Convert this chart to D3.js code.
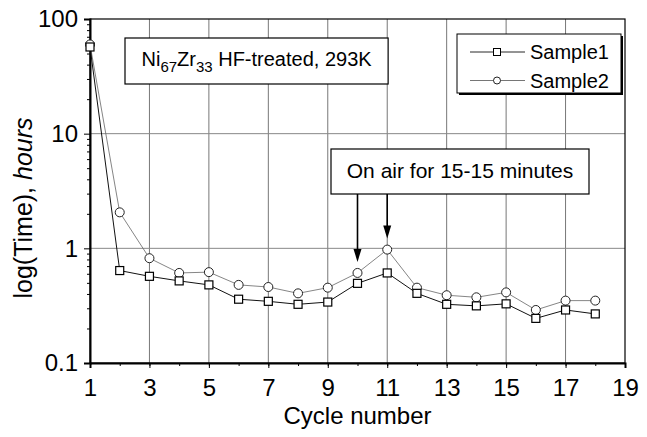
<!DOCTYPE html>
<html>
<head>
<meta charset="utf-8">
<script src="https://cdn.jsdelivr.net/npm/d3@7"></script>
<style>
  body { margin: 0; background: #fff; }
  text { font-family: Arial, "Liberation Sans", sans-serif; fill: #000; }
</style>
</head>
<body>
<script>
// data
var cycles = d3.range(1, 19);
var sample1 = [57, 0.64, 0.57, 0.52, 0.48, 0.36, 0.345, 0.325, 0.34, 0.495, 0.61, 0.405, 0.325, 0.315, 0.328, 0.245, 0.29, 0.268];
var sample2 = [60, 2.06, 0.82, 0.61, 0.62, 0.48, 0.46, 0.405, 0.454, 0.61, 0.975, 0.454, 0.39, 0.374, 0.413, 0.29, 0.35, 0.35];
var xTicks = [1, 3, 5, 7, 9, 11, 13, 15, 17, 19];
var yTicks = [0.1, 1, 10, 100];
var arrowAt = [10, 11];

var W = 647, H = 437;
var margin = {top: 19, right: 22, bottom: 74, left: 90};
var width = W - margin.left - margin.right,
    height = H - margin.top - margin.bottom;

var x = d3.scaleLinear().domain([1, 19]).range([0, width]),
    y = d3.scaleLog().domain([0.1, 100]).range([height, 0]);

var svg = d3.select("body").append("svg")
    .attr("width", W)
    .attr("height", H)
  .append("g")
    .attr("transform", "translate(" + margin.left + "," + margin.top + ")");

// grid lines
svg.selectAll(".vgrid")
    .data(xTicks.slice(1, -1))
  .enter().append("line")
    .attr("x1", function(d) { return x(d); })
    .attr("x2", function(d) { return x(d); })
    .attr("y1", 0).attr("y2", height)
    .attr("stroke", "#777").attr("stroke-width", 1);

svg.selectAll(".hgrid")
    .data([1, 10])
  .enter().append("line")
    .attr("x1", 0).attr("x2", width)
    .attr("y1", function(d) { return y(d); })
    .attr("y2", function(d) { return y(d); })
    .attr("stroke", "#888").attr("stroke-width", 1);

// frame
svg.append("rect")
    .attr("width", width).attr("height", height)
    .attr("fill", "none").attr("stroke", "#000").attr("stroke-width", 1.2);

// axes
var xMinor = d3.range(1, 20);
svg.append("g")
    .attr("transform", "translate(0," + height + ")")
    .call(d3.axisBottom(x).tickValues(xMinor).tickSize(3).tickFormat(""))
    .call(function(g) { g.select(".domain").remove(); });

var xAxis = svg.append("g")
    .attr("transform", "translate(0," + height + ")")
    .call(d3.axisBottom(x).tickValues(xTicks).tickSize(5).tickPadding(11).tickFormat(d3.format("d")));
xAxis.select(".domain").attr("stroke-width", 2);
xAxis.selectAll("text").attr("font-size", 24);

var yMinor = [];
[0.1, 1, 10].forEach(function(b) { for (var k = 2; k <= 9; k++) yMinor.push(b * k); });
svg.append("g")
    .call(d3.axisLeft(y).tickValues(yMinor).tickSize(3).tickFormat(""))
    .call(function(g) { g.select(".domain").remove(); });

var yAxis = svg.append("g")
    .call(d3.axisLeft(y).tickValues(yTicks).tickSize(6).tickPadding(6)
      .tickFormat(function(d) { return d < 1 ? "0.1" : d3.format("d")(d); }));
yAxis.select(".domain").attr("stroke-width", 2);
yAxis.selectAll("text").attr("font-size", 24);

// axis labels
svg.append("text")
    .attr("x", width / 2).attr("y", height + 61)
    .attr("text-anchor", "middle")
    .attr("font-size", 24)
    .text("Cycle number");

var yl = svg.append("text")
    .attr("transform", "translate(" + (-58) + "," + (height / 2 + 17) + ")rotate(-90)")
    .attr("text-anchor", "middle")
    .attr("font-size", 25);
yl.append("tspan").text("log(Time), ");
yl.append("tspan").attr("font-style", "italic").text("hours");

// series
var line = d3.line()
    .x(function(d, i) { return x(cycles[i]); })
    .y(function(d) { return y(d); });

svg.append("path").datum(sample2)
    .attr("d", line).attr("fill", "none")
    .attr("stroke", "#666").attr("stroke-width", 0.8);
svg.append("path").datum(sample1)
    .attr("d", line).attr("fill", "none")
    .attr("stroke", "#111").attr("stroke-width", 1);

svg.selectAll(".s2")
    .data(sample2)
  .enter().append("circle")
    .attr("cx", function(d, i) { return x(cycles[i]); })
    .attr("cy", function(d) { return y(d); })
    .attr("r", 4.5)
    .attr("fill", "#fff").attr("stroke", "#222").attr("stroke-width", 1);

svg.selectAll(".s1")
    .data(sample1)
  .enter().append("rect")
    .attr("x", function(d, i) { return x(cycles[i]) - 4; })
    .attr("y", function(d) { return y(d) - 4; })
    .attr("width", 8).attr("height", 8)
    .attr("fill", "#fff").attr("stroke", "#000").attr("stroke-width", 1.2);

// annotation: composition box
var b1 = svg.append("rect")
    .attr("x", 35).attr("y", 19).attr("height", 46)
    .attr("fill", "#fff").attr("stroke", "#000").attr("stroke-width", 1.2);
var t1 = svg.append("text")
    .attr("x", 51.5).attr("y", 47)
    .attr("font-size", 20);
t1.append("tspan").text("Ni");
t1.append("tspan").attr("font-size", 15).attr("dy", 6).text("67");
t1.append("tspan").attr("dy", -6).text("Zr");
t1.append("tspan").attr("font-size", 15).attr("dy", 6).text("33");
t1.append("tspan").attr("dy", -6).text(" HF-treated, 293K");
b1.attr("width", t1.node().getComputedTextLength() + 33);

// annotation: air exposure box with arrows
var boxTop = 130, boxBot = 175;
svg.append("rect")
    .attr("x", 241).attr("y", boxTop).attr("width", 258).attr("height", boxBot - boxTop)
    .attr("fill", "#fff").attr("stroke", "#000").attr("stroke-width", 1.2);
svg.append("text")
    .attr("x", 370).attr("y", 159)
    .attr("text-anchor", "middle")
    .attr("font-size", 21)
    .text("On air for 15-15 minutes");

svg.selectAll(".arrow")
    .data(arrowAt)
  .enter().append("g")
    .each(function(c) {
      var g = d3.select(this),
          i = cycles.indexOf(c),
          px = x(c),
          tip = y(sample2[i]) - 11;
      g.append("line")
          .attr("x1", px).attr("x2", px)
          .attr("y1", boxBot).attr("y2", tip - 10)
          .attr("stroke", "#000").attr("stroke-width", 1.6);
      g.append("path")
          .attr("d", "M" + (px - 4) + "," + (tip - 13) + "L" + (px + 4) + "," + (tip - 13) + "L" + px + "," + tip + "Z")
          .attr("fill", "#000");
    });

// legend
var lg = svg.append("g").attr("transform", "translate(367,15)");
lg.append("rect")
    .attr("x", 2).attr("y", 2).attr("width", 164).attr("height", 59)
    .attr("fill", "#000");
lg.append("rect")
    .attr("width", 164).attr("height", 59)
    .attr("fill", "#fff").attr("stroke", "#000").attr("stroke-width", 1);

var legendItems = [
  {name: "Sample1", shape: "square", color: "#111"},
  {name: "Sample2", shape: "circle", color: "#666"}
];
legendItems.forEach(function(d, i) {
  var cy = 18 + i * 28.5;
  lg.append("line")
      .attr("x1", 13).attr("x2", 68).attr("y1", cy).attr("y2", cy)
      .attr("stroke", d.color).attr("stroke-width", 0.9);
  if (d.shape === "square") {
    lg.append("rect")
        .attr("x", 36.5).attr("y", cy - 3.5).attr("width", 7).attr("height", 7)
        .attr("fill", "#fff").attr("stroke", "#000");
  } else {
    lg.append("circle")
        .attr("cx", 40).attr("cy", cy).attr("r", 3.5)
        .attr("fill", "#fff").attr("stroke", "#222");
  }
  lg.append("text")
      .attr("x", 73).attr("y", cy + 7)
      .attr("font-size", 20)
      .text(d.name);
});
</script>
</body>
</html>
